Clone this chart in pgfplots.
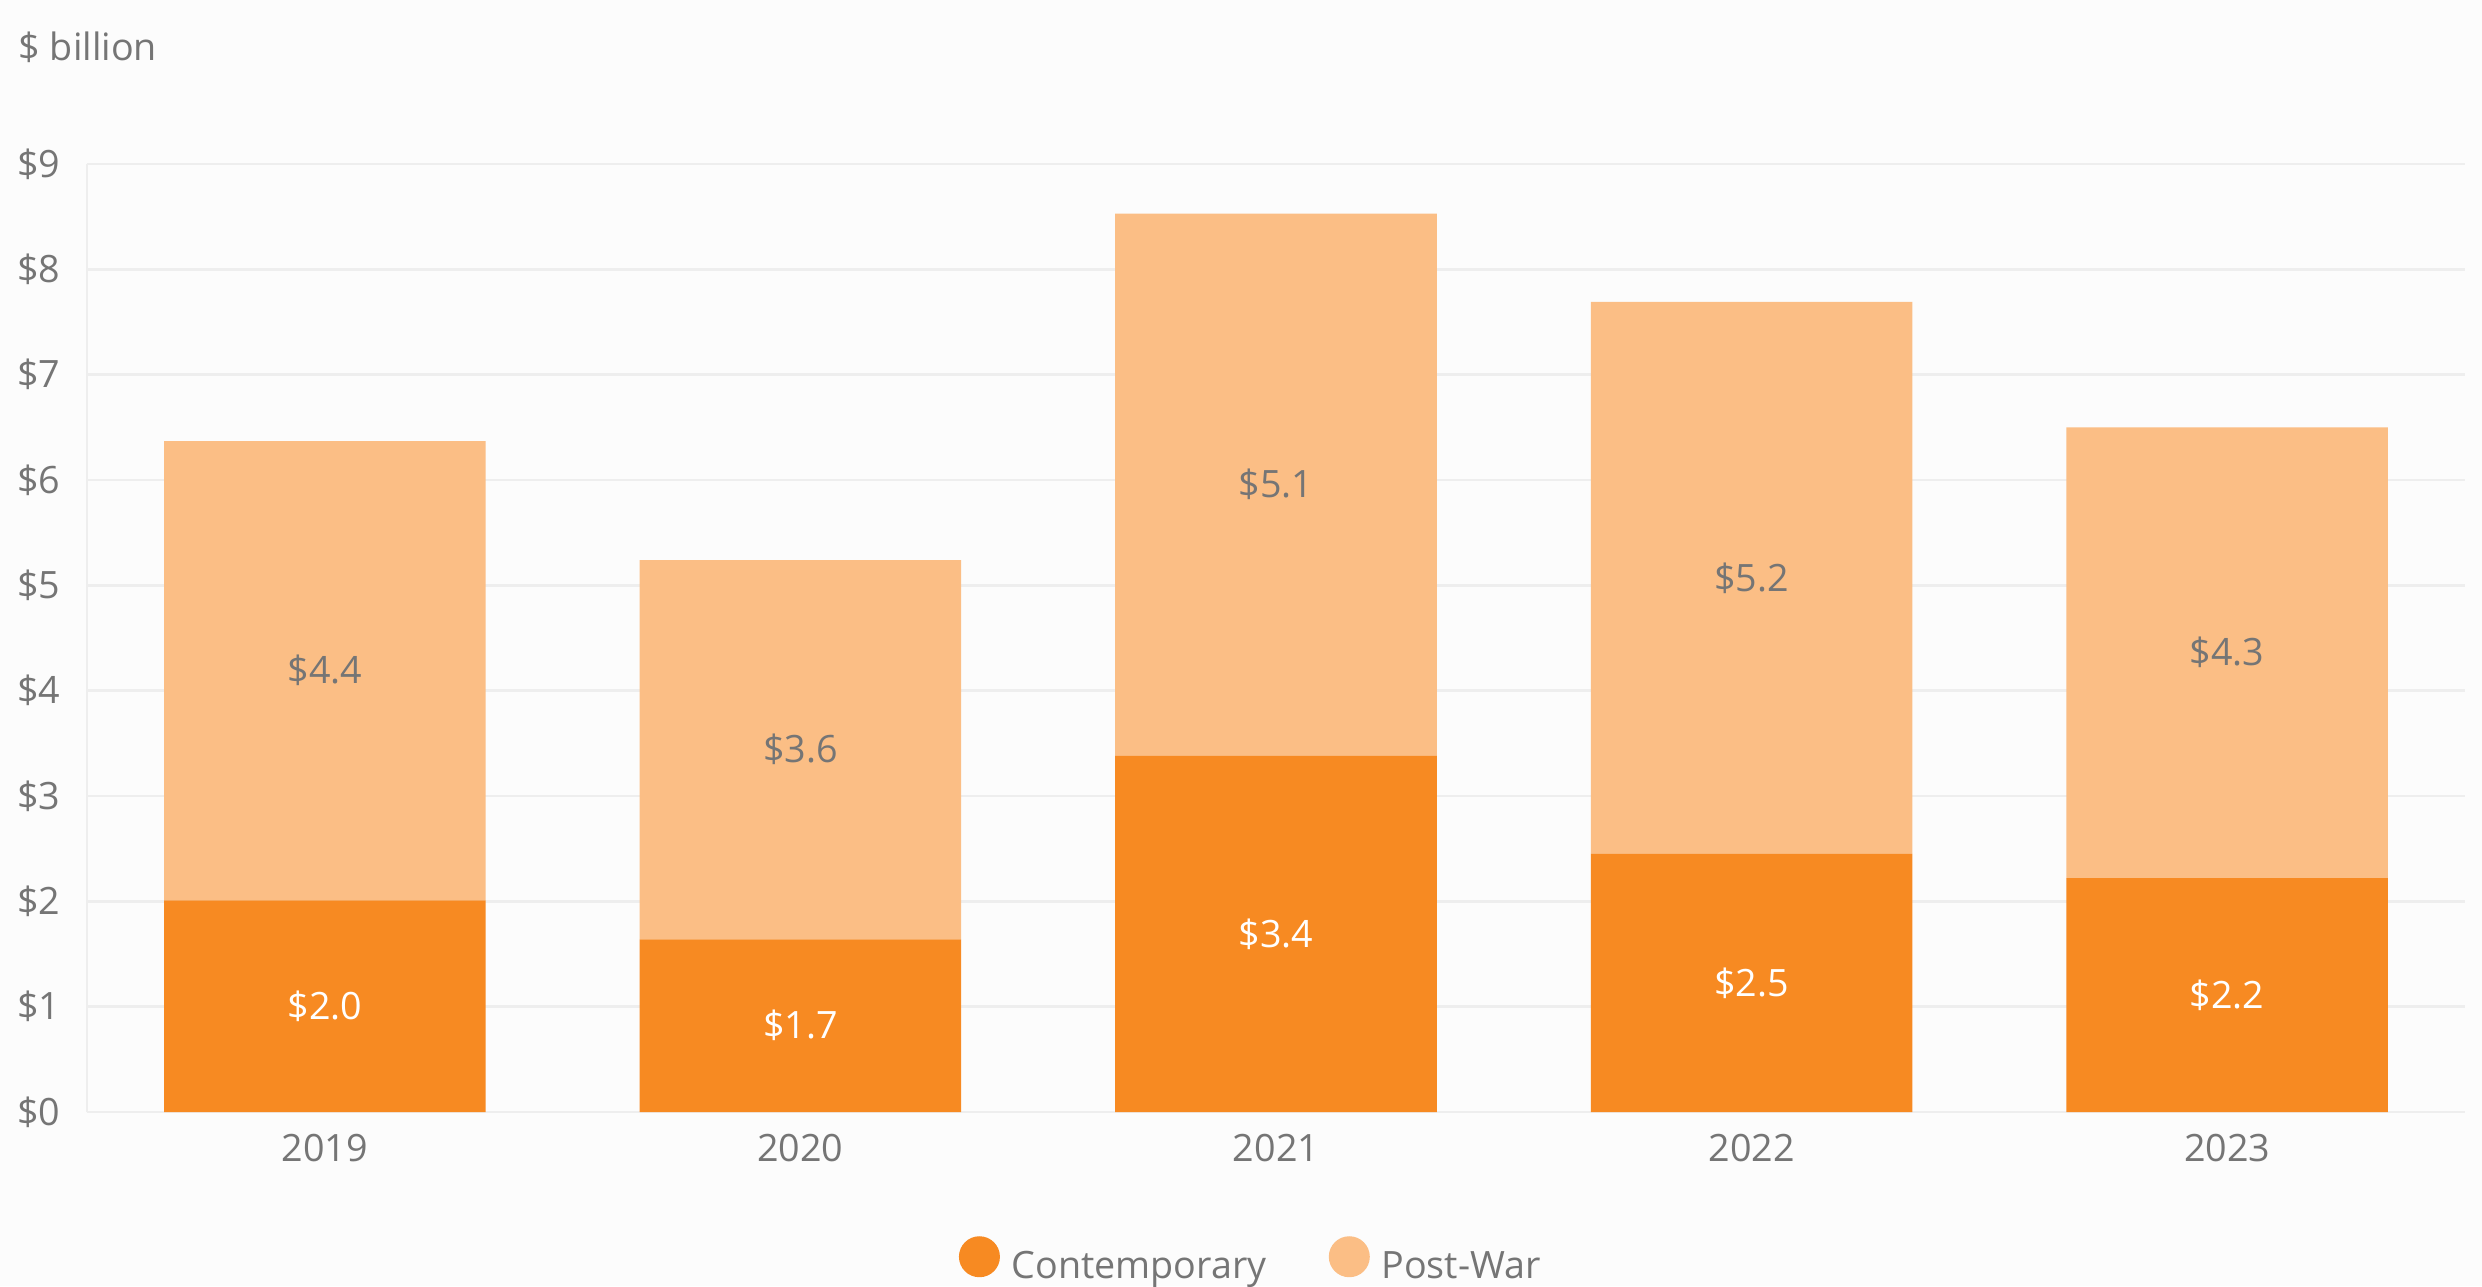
\documentclass[border=0pt]{standalone}
\usepackage{fontspec}
\setmainfont{Open Sans}
\usepackage{pgfplots}
\pgfplotsset{compat=1.18}
\usepackage{pgfplotstable}
\definecolor{contemp}{HTML}{F78A22}
\definecolor{postwar}{HTML}{FBBE85}
\definecolor{txtgray}{HTML}{757575}
\definecolor{gridgray}{HTML}{EEEEEE}
\definecolor{bgcol}{HTML}{FCFCFC}

\pgfplotstableread{
x contemp postwar
0 2.01 4.36
1 1.64 3.60
2 3.38 5.15
3 2.45 5.24
4 2.22 4.28
}\sales

\pgfplotstableread{
x y label
0 1.005 \$2.0
1 0.82 \$1.7
2 1.69 \$3.4
3 1.225 \$2.5
4 1.11 \$2.2
}\clabels

\pgfplotstableread{
x y label
0 4.19 \$4.4
1 3.44 \$3.6
2 5.955 \$5.1
3 5.07 \$5.2
4 4.36 \$4.3
}\plabels

\pgfplotsset{base/.style={scale only axis, width=713.4pt, height=284.4pt,
  xmin=-0.5, xmax=4.5, ymin=0, ymax=9, at={(0pt,0pt)}, anchor=south west}}

\begin{document}
\begin{tikzpicture}[font=\fontsize{11.3}{14}\selectfont]
\fill[bgcol] (-26.1pt,-52.2pt) rectangle (718.5pt,333.6pt);
\useasboundingbox (-26.1pt,-52.2pt) rectangle (718.5pt,333.6pt);
\node[anchor=base west, text=txtgray, inner sep=0pt] at (-20.7pt,315.3pt) {\$ billion};
\begin{axis}[base, ybar stacked, bar width=0.676,
  axis x line*=bottom, axis y line*=left,
  axis line style={gridgray, line width=0.8pt, -},
  every outer x axis line/.append style={-},
  every outer y axis line/.append style={-},
  ymajorgrids, grid style={gridgray, line width=0.8pt},
  ytick={0,1,...,9},
  yticklabels={\$0,\$1,\$2,\$3,\$4,\$5,\$6,\$7,\$8,\$9},
  xtick={0,1,2,3,4},
  xticklabels={2019,2020,2021,2022,2023},
  major tick length=0pt,
  tick label style={text=txtgray},
  yticklabel style={anchor=east, inner sep=0pt, xshift=-7.8pt},
  xticklabel style={anchor=north, inner sep=0pt, yshift=-6.5pt},
  legend style={draw=none, fill=none, at={(0.489,-0.156)}, anchor=center,
    legend columns=2, text=txtgray, column sep=3.5pt,
    nodes={inner sep=0pt, anchor=west},
    /tikz/every even column/.append style={column sep=18.7pt}},
  legend image code/.code={\fill[#1] (6.15pt,3.2pt) circle (6.15pt);},
]
\addplot[fill=contemp, draw=none] table[x=x, y=contemp] {\sales};
\addlegendentry{Contemporary}
\addplot[fill=postwar, draw=none] table[x=x, y=postwar] {\sales};
\addlegendentry{Post-War}
\end{axis}
\begin{axis}[base, hide axis]
\addplot[draw=none, mark=none, nodes near coords, point meta=explicit symbolic,
  every node near coord/.append style={anchor=center, text=white, inner sep=0pt}]
  table[x=x, y=y, meta=label] {\clabels};
\addplot[draw=none, mark=none, nodes near coords, point meta=explicit symbolic,
  every node near coord/.append style={anchor=center, text=txtgray, inner sep=0pt}]
  table[x=x, y=y, meta=label] {\plabels};
\end{axis}
\end{tikzpicture}
\end{document}
